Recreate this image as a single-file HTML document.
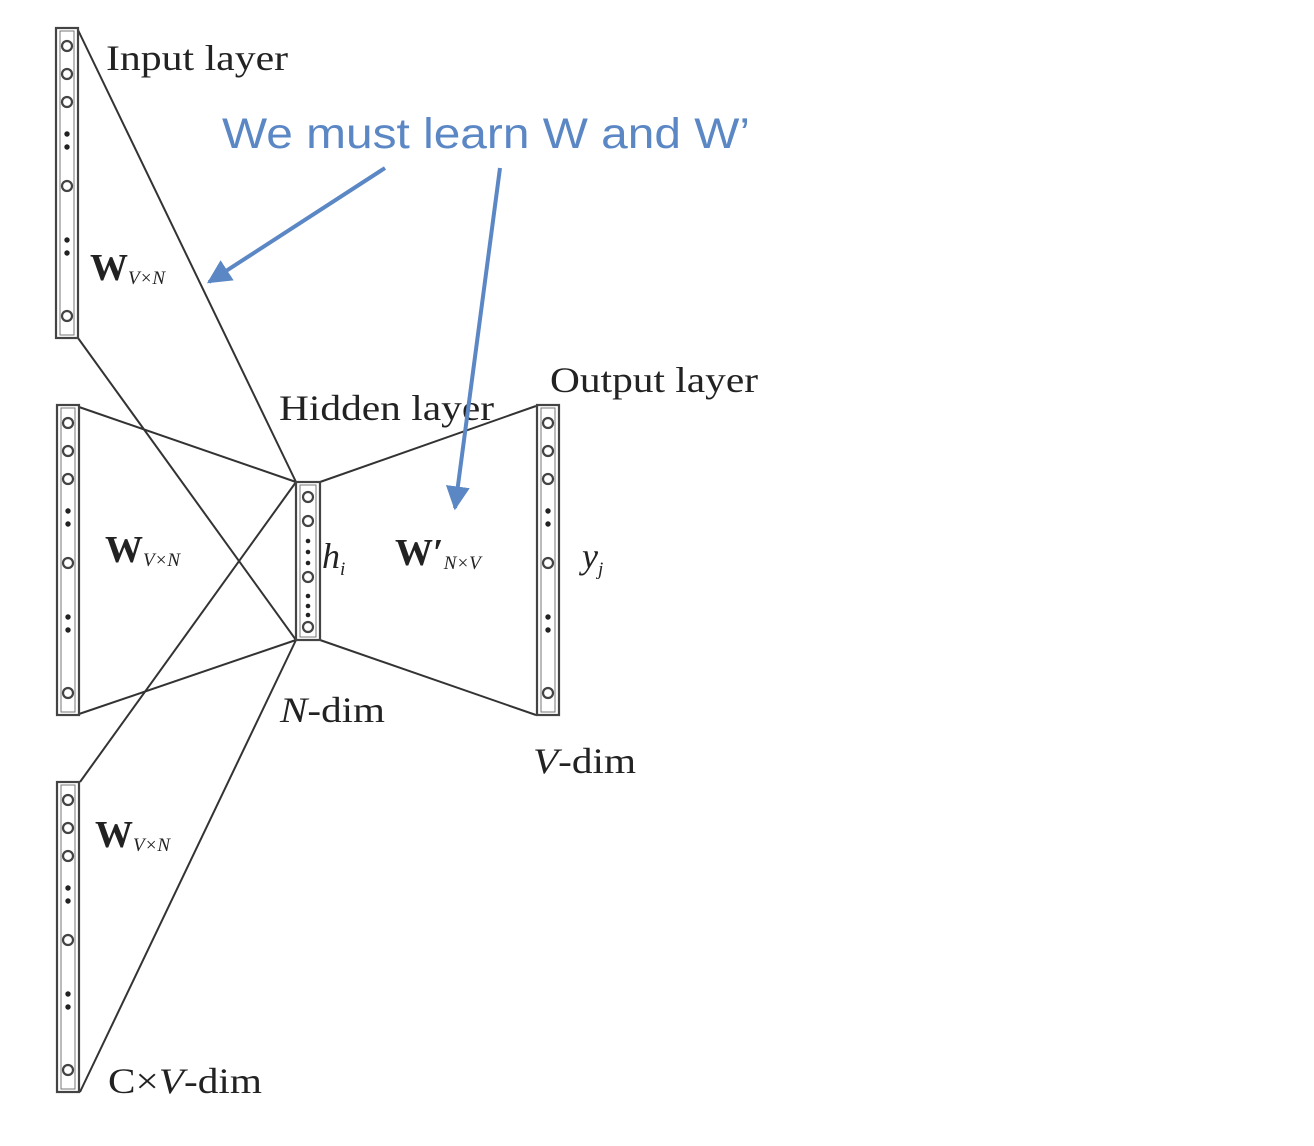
<!DOCTYPE html>
<html><head><meta charset="utf-8"><style>
html,body{margin:0;padding:0;background:#fff;}
svg{display:block;}
.s{font-family:"Liberation Serif",serif;fill:#222;}
</style></head><body>
<svg width="1314" height="1146" viewBox="0 0 1314 1146" xmlns="http://www.w3.org/2000/svg">
<defs>
<g id="col">
<rect x="0" y="0" width="22" height="310" fill="none" stroke="#444" stroke-width="2.2"/>
<rect x="4" y="3" width="14" height="304" fill="none" stroke="#777" stroke-width="1"/>
<g fill="none" stroke="#444" stroke-width="2.2">
<circle cx="11" cy="18" r="5"/><circle cx="11" cy="46" r="5"/><circle cx="11" cy="74" r="5"/>
<circle cx="11" cy="158" r="5"/><circle cx="11" cy="288" r="5"/></g>
<g fill="#222"><circle cx="11" cy="106" r="2.7"/><circle cx="11" cy="119" r="2.7"/>
<circle cx="11" cy="212" r="2.7"/><circle cx="11" cy="225" r="2.7"/></g>
</g>
<marker id="ah" viewBox="0 0 10 10" refX="9" refY="5" markerWidth="6" markerHeight="6" orient="auto" markerUnits="strokeWidth">
<path d="M0,0 L10,5 L0,10 z" fill="#5b87c5"/></marker>
</defs>
<g stroke="#333" stroke-width="2" fill="none">
<line x1="78" y1="30" x2="296" y2="482"/>
<line x1="78" y1="338" x2="296" y2="640"/>
<line x1="79" y1="407" x2="296" y2="482"/>
<line x1="79" y1="714" x2="296" y2="640"/>
<line x1="80" y1="782" x2="296" y2="482"/>
<line x1="80" y1="1092" x2="296" y2="640"/>
<line x1="320" y1="482" x2="536" y2="406"/>
<line x1="320" y1="640" x2="536" y2="715"/>
</g>
<use href="#col" x="56" y="28"/>
<use href="#col" x="57" y="405"/>
<use href="#col" x="57" y="782"/>
<use href="#col" x="537" y="405"/>
<g>
<rect x="296" y="482" width="24" height="158" fill="#fff" stroke="#444" stroke-width="2.2"/>
<rect x="300" y="485" width="16" height="152" fill="none" stroke="#777" stroke-width="1"/>
<g fill="none" stroke="#444" stroke-width="2.2"><circle cx="308" cy="497" r="5"/><circle cx="308" cy="521" r="5"/><circle cx="308" cy="577" r="5"/><circle cx="308" cy="627" r="5"/></g>
<g fill="#222"><circle cx="308" cy="541" r="2.3"/><circle cx="308" cy="552" r="2.3"/><circle cx="308" cy="563" r="2.3"/><circle cx="308" cy="596" r="2.3"/><circle cx="308" cy="606" r="2.3"/><circle cx="308" cy="615" r="2.3"/></g>
</g>
<text class="s" x="106" y="70" font-size="36" textLength="182" lengthAdjust="spacingAndGlyphs">Input layer</text>
<text class="s" x="279" y="420" font-size="36" textLength="215" lengthAdjust="spacingAndGlyphs">Hidden layer</text>
<text class="s" x="550" y="392" font-size="36" textLength="208" lengthAdjust="spacingAndGlyphs">Output layer</text>
<text class="s" x="280" y="722" font-size="36" textLength="105" lengthAdjust="spacingAndGlyphs"><tspan font-style="italic">N</tspan>-dim</text>
<text class="s" x="533" y="773" font-size="36" textLength="103" lengthAdjust="spacingAndGlyphs"><tspan font-style="italic">V</tspan>-dim</text>
<text class="s" x="108" y="1093" font-size="36" textLength="154" lengthAdjust="spacingAndGlyphs">C×<tspan font-style="italic">V</tspan>-dim</text>
<text class="s" x="90" y="280" font-size="38" font-weight="bold">W<tspan font-size="19" font-weight="normal" font-style="italic" dy="4">V×N</tspan></text>
<text class="s" x="105" y="562" font-size="38" font-weight="bold">W<tspan font-size="19" font-weight="normal" font-style="italic" dy="4">V×N</tspan></text>
<text class="s" x="95" y="847" font-size="38" font-weight="bold">W<tspan font-size="19" font-weight="normal" font-style="italic" dy="4">V×N</tspan></text>
<text class="s" x="395" y="565" font-size="38" font-weight="bold">W′<tspan font-size="19" font-weight="normal" font-style="italic" dy="4">N×V</tspan></text>
<text class="s" x="322" y="568" font-size="36" font-style="italic">h<tspan font-size="19" dy="7">i</tspan></text>
<text class="s" x="582" y="568" font-size="36" font-style="italic">y<tspan font-size="19" dy="7">j</tspan></text>
<text x="222" y="148" font-family="Liberation Sans, sans-serif" font-size="43" fill="#5b87c5" textLength="528" lengthAdjust="spacingAndGlyphs">We must learn W and W’</text>
<g stroke="#5b87c5" stroke-width="4" fill="none">
<line x1="385" y1="168" x2="209" y2="282" marker-end="url(#ah)"/>
<line x1="500" y1="168" x2="455" y2="508" marker-end="url(#ah)"/>
</g>
</svg>
</body></html>
